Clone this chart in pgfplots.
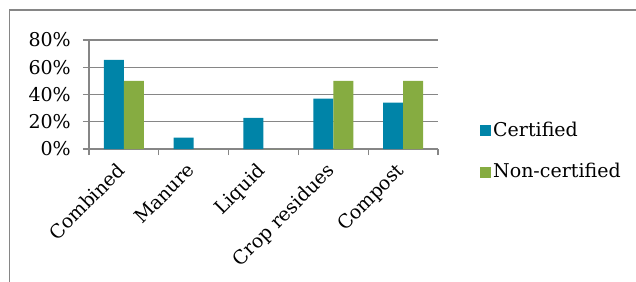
\documentclass[border=0pt]{standalone}
\usepackage{fontspec}
\setmainfont{DejaVu Serif}
\usepackage{pgfplots}
\pgfplotsset{compat=1.18}
\definecolor{cert}{RGB}{0,132,168}
\definecolor{noncert}{RGB}{134,172,65}
\definecolor{gridgray}{RGB}{134,134,134}
\begin{document}
\begin{tikzpicture}
\fontsize{19bp}{23bp}\selectfont
\path[use as bounding box] (-89bp,-133bp) rectangle (547bp,149bp);
\draw[gridgray, line width=1.2bp] (-79.5bp,-140bp) -- (-79.5bp,139bp) -- (560bp,139bp);
\begin{axis}[
  at={(0,0)}, anchor=origin,
  scale only axis,
  width=349bp, height=109bp,
  ybar=0pt, bar width=20bp,
  xmin=0, xmax=5,
  ymin=0, ymax=80,
  ytick={0,20,40,60,80},
  yticklabel={\pgfmathprintnumber{\tick}\%},
  /pgf/number format/assume math mode=true,
  xtick={0.5,1.5,2.5,3.5,4.5},
  xticklabels={Combined,Manure,Liquid,Crop residues,Compost},
  minor xtick={0,1,2,3,4,5},
  major x tick style={draw=none},
  tick align=outside,
  major tick length=6bp,
  minor tick length=6bp,
  tick style={gridgray, line width=1.2bp},
  axis x line*=bottom, axis y line*=left,
  axis line style={gridgray, line width=1.2bp, -},
  ymajorgrids, grid style={gridgray, line width=1.2bp},
  xticklabel style={rotate=45, anchor=north east, inner sep=0pt, yshift=1bp, xshift=-10bp, font=\fontsize{19bp}{23bp}\selectfont},
  yticklabel style={anchor=east, inner sep=0pt, xshift=-12bp, font=\fontsize{19bp}{23bp}\selectfont},
  legend style={at={(391bp,29bp)}, anchor=north west, draw=none, fill=none,
    font=\fontsize{19bp}{23bp}\selectfont, row sep=20bp, inner sep=0pt,
    /tikz/every even column/.append style={column sep=0pt}},
  legend image code/.code={\fill[#1] (0bp,-5.5bp) rectangle (11bp,5.5bp);},
  legend cell align=left,
]
\addplot[fill=cert, draw=none] coordinates {(0.5,65.5) (1.5,8.3) (2.5,22.8) (3.5,37) (4.5,34)};
\addplot[fill=noncert, draw=none] coordinates {(0.5,50) (1.5,0) (2.5,0) (3.5,50) (4.5,50)};
\legend{Certified,Non-certified}
\end{axis}
\end{tikzpicture}
\end{document}
